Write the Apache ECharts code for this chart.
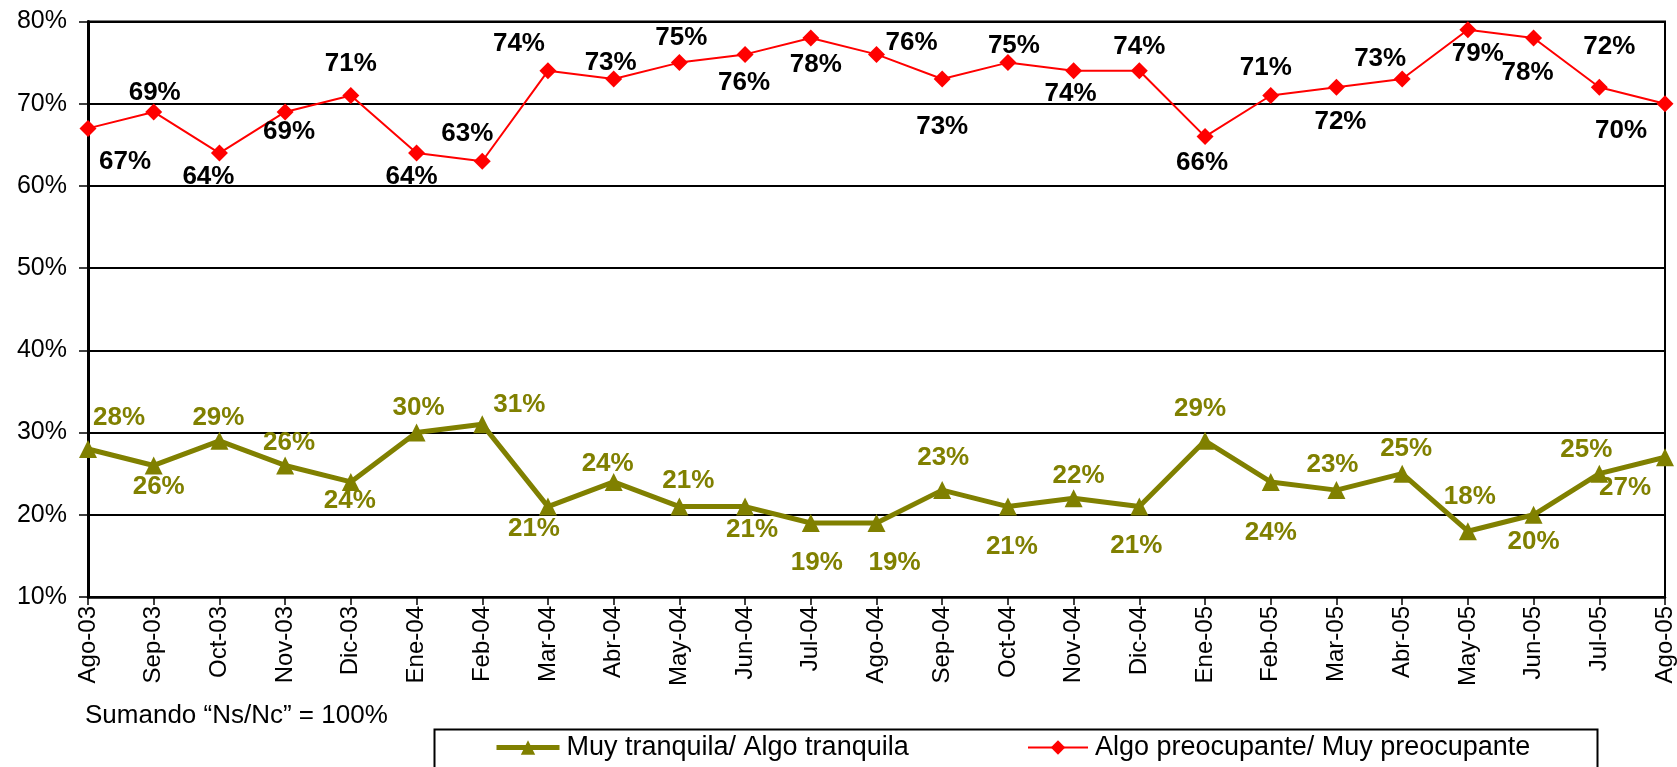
<!DOCTYPE html>
<html>
<head>
<meta charset="utf-8">
<script src="https://cdn.jsdelivr.net/npm/echarts@6/dist/echarts.min.js"></script>
<style>
html,body{margin:0;padding:0;background:#fff;}
#chart{width:1677px;height:767px;}
</style>
</head>
<body>
<div id="chart"></div>
<script>
const categories = ['Ago-03','Sep-03','Oct-03','Nov-03','Dic-03','Ene-04','Feb-04','Mar-04','Abr-04','May-04','Jun-04','Jul-04','Ago-04','Sep-04','Oct-04','Nov-04','Dic-04','Ene-05','Feb-05','Mar-05','Abr-05','May-05','Jun-05','Jul-05','Ago-05'];
const preocupanteName = 'Algo preocupante/ Muy preocupante';
const tranquilaName = 'Muy tranquila/ Algo tranquila';
const preocupante = [67,69,64,69,71,64,63,74,73,75,76,78,76,73,75,74,74,66,71,72,73,79,78,72,70];
const tranquila = [28,26,29,26,24,30,31,21,24,21,21,19,19,23,21,22,21,29,24,23,25,18,20,25,27];
const yMin = 10, yMax = 80, yStep = 10;
const noteText = 'Sumando \u201cNs/Nc\u201d = 100%';

// label placement (pixel offsets from each point, layout only)
const preocupanteLabelOffsets = [[37,33],[1,-19],[-11,24],[4,20],[0,-32],[-5,24],[-15,-27],[-29,-27],[-3,-16],[2,-25],[-1,28],[5,27],[35,-12],[0,48],[6,-17],[-3,23],[0,-24],[-3,26],[-5,-28],[4,35],[-22,-20],[10,24],[-6,35],[10,-40],[-44,27]];
const tranquilaLabelOffsets = [[31,-31],[5,21],[-1,-23],[4,-23],[-1,19],[2,-25],[37,-20],[-14,22],[-6,-18],[9,-26],[7,23],[6,40],[18,40],[1,-32],[4,40],[5,-23],[-3,39],[-5,-32],[0,51],[-4,-25],[4,-25],[2,-34],[0,27],[-13,-24],[-40,31]];

const FONT = "'Liberation Sans', Arial, sans-serif";
const OLIVE = '#808000';
const RED = '#ff0000';

function buildData(values, offsets) {
  return values.map((v, i) => ({ value: v, label: { offset: offsets[i] } }));
}

const chart = echarts.init(document.getElementById('chart'), null, { renderer: 'canvas' });
chart.setOption({
  animation: false,
  backgroundColor: '#fff',
  grid: { left: 88, right: 3, top: 21.5, bottom: 170, show: true, borderColor: '#000', borderWidth: 2, containLabel: false },
  xAxis: {
    type: 'category',
    data: categories,
    boundaryGap: false,
    axisLine: { show: true, lineStyle: { color: '#000', width: 2.5 } },
    axisTick: { show: true, length: 8, interval: 0, lineStyle: { color: '#000', width: 1.5 } },
    axisLabel: { interval: 0, rotate: 90, margin: 9, fontSize: 24, color: '#000', fontFamily: FONT },
    splitLine: { show: false }
  },
  yAxis: {
    type: 'value',
    min: yMin, max: yMax, interval: yStep,
    axisLine: { show: true, lineStyle: { color: '#000', width: 3 } },
    axisTick: { show: true, length: 9, lineStyle: { color: '#000', width: 1.5 } },
    axisLabel: { formatter: '{value}%', fontSize: 25, color: '#000', margin: 21, fontFamily: FONT },
    splitLine: { show: true, lineStyle: { color: '#000', width: 2 } }
  },
  legend: [
    {
      data: [tranquilaName],
      left: 494, top: 734, padding: 0,
      itemWidth: 63, itemHeight: 18, itemGap: 0,
      lineStyle: { width: 5, color: OLIVE },
      textStyle: { fontSize: 27, color: '#000', fontFamily: FONT, padding: [0,0,0,2] }
    },
    {
      data: [preocupanteName],
      left: 1027, top: 734, padding: 0,
      itemWidth: 60, itemHeight: 18, itemGap: 0,
      lineStyle: { width: 2, color: RED },
      textStyle: { fontSize: 27, color: '#000', fontFamily: FONT, padding: [0,0,0,2] }
    }
  ],
  graphic: [
    { type: 'rect', left: 432, top: 727, shape: { width: 1163, height: 60 }, style: { fill: 'none', stroke: '#000', lineWidth: 2 }, silent: true, z: -1 },
    { type: 'text', left: 85, top: 703, style: { text: noteText, fontSize: 26, fill: '#000', fontFamily: FONT } }
  ],
  series: [
    {
      name: tranquilaName,
      type: 'line',
      data: buildData(tranquila, tranquilaLabelOffsets),
      symbol: 'triangle',
      symbolSize: 18,
      lineStyle: { color: OLIVE, width: 5 },
      itemStyle: { color: OLIVE },
      label: { show: true, position: 'inside', formatter: '{c}%', fontSize: 26, fontWeight: 'bold', color: OLIVE, fontFamily: FONT },
      z: 3
    },
    {
      name: preocupanteName,
      type: 'line',
      data: buildData(preocupante, preocupanteLabelOffsets),
      symbol: 'diamond',
      symbolSize: [17, 17],
      lineStyle: { color: RED, width: 2 },
      itemStyle: { color: RED },
      label: { show: true, position: 'inside', formatter: '{c}%', fontSize: 26, fontWeight: 'bold', color: '#000', fontFamily: FONT },
      z: 3
    }
  ]
});
</script>
</body>
</html>
